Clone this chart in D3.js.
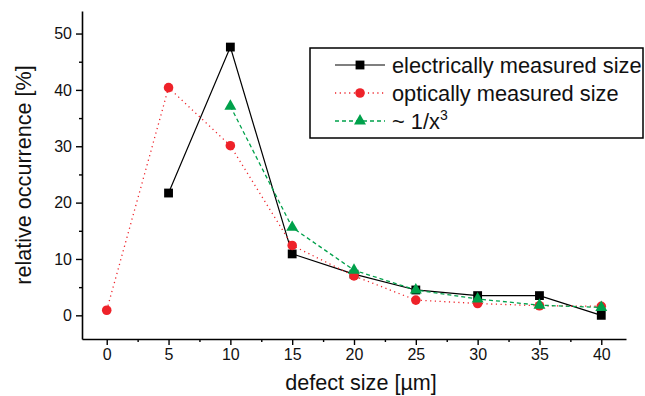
<!DOCTYPE html>
<html>
<head>
<meta charset="utf-8">
<script src="https://cdn.jsdelivr.net/npm/d3@7"></script>
<style>
  html, body { margin: 0; padding: 0; background: #fff; }
  svg { display: block; font-family: "Liberation Sans", Arial, sans-serif; }
</style>
</head>
<body>
<svg id="chart" width="645" height="396"></svg>
<script>
// ---- data ----
const electricalSizes = [5, 10, 15, 20, 25, 30, 35, 40];
const electricalValues = [21.7, 47.6, 10.9, 7.3, 4.5, 3.5, 3.5, 0];
const opticalSizes = [0, 5, 10, 15, 20, 25, 30, 35, 40];
const opticalValues = [0.9, 40.4, 30.1, 12.4, 7.0, 2.7, 2.1, 1.7, 1.6];
const cubicSizes = [10, 15, 20, 25, 30, 35, 40];
const cubicValues = [37.1, 15.6, 8.0, 4.5, 2.9, 1.8, 1.4];
const xTicks = [0, 5, 10, 15, 20, 25, 30, 35, 40];
const xMinorTicks = [2.5, 7.5, 12.5, 17.5, 22.5, 27.5, 32.5, 37.5];
const yTicks = [0, 10, 20, 30, 40, 50];
const yMinorTicks = [5, 15, 25, 35, 45];
const seriesNames = ["electrically measured size", "optically measured size", "~ 1/x"];

const svg = d3.select("#chart");
const x = d3.scaleLinear().domain([-2, 42]).range([82, 626]);
const y = d3.scaleLinear().domain([-4.2, 54]).range([339, 11]);

// axes
svg.append("g").attr("transform", "translate(0,339)")
  .call(d3.axisBottom(x).tickValues(xTicks).tickSize(6).tickSizeOuter(0).tickPadding(4));
svg.append("g").attr("transform", "translate(0,339)")
  .call(d3.axisBottom(x).tickValues(xMinorTicks).tickSize(3).tickSizeOuter(0).tickFormat(""))
  .select(".domain").remove();
svg.append("g").attr("transform", "translate(82,0)")
  .call(d3.axisLeft(y).tickValues(yTicks).tickSize(6).tickSizeOuter(0).tickPadding(4));
svg.append("g").attr("transform", "translate(82,0)")
  .call(d3.axisLeft(y).tickValues(yMinorTicks).tickSize(3).tickSizeOuter(0).tickFormat(""))
  .select(".domain").remove();

svg.selectAll(".domain").attr("stroke", "#000").attr("stroke-width", 1.6);
svg.selectAll(".tick line").attr("stroke", "#000").attr("stroke-width", 1.4);
svg.selectAll(".tick text").attr("font-size", 16).attr("fill", "#111")
  .attr("font-family", "Liberation Sans, Arial, sans-serif");

// titles
svg.append("text").attr("x", 361).attr("y", 390).attr("text-anchor", "middle")
  .attr("font-size", 21.6).attr("fill", "#111").text("defect size [µm]");
svg.append("text").attr("transform", "translate(31,175) rotate(-90)").attr("text-anchor", "middle")
  .attr("font-size", 21.6).attr("fill", "#111").text("relative occurrence [%]");

const red = "#ee2229", green = "#00a14b";
const series = [
  { xs: electricalSizes, ys: electricalValues, color: "#000", width: 1.2, dash: null, marker: "square" },
  { xs: opticalSizes, ys: opticalValues, color: red, width: 1.3, dash: "1.2,3.5", marker: "circle" },
  { xs: cubicSizes, ys: cubicValues, color: green, width: 1.3, dash: "4,3", marker: "triangle" }
];
const sym = {
  square: d3.symbol().type(d3.symbolSquare).size(78),
  circle: d3.symbol().type(d3.symbolCircle).size(72),
  triangle: d3.symbol().type(d3.symbolTriangle).size(62)
};
const line = d3.line();

series.forEach(s => {
  const pts = s.xs.map((v, i) => [x(v), y(s.ys[i])]);
  svg.append("path").attr("d", line(pts)).attr("fill", "none")
    .attr("stroke", s.color).attr("stroke-width", s.width)
    .attr("stroke-dasharray", s.dash);
  svg.append("g").selectAll("path").data(pts).join("path")
    .attr("transform", d => `translate(${d[0]},${d[1]})`)
    .attr("d", sym[s.marker]()).attr("fill", s.color);
});

// legend
svg.append("rect").attr("x", 310).attr("y", 48).attr("width", 333).attr("height", 90)
  .attr("fill", "#fff").attr("stroke", "#000").attr("stroke-width", 1.5);
const rowsY = [65, 93, 121];
series.forEach((s, i) => {
  const cy = rowsY[i];
  svg.append("line").attr("x1", 335).attr("x2", 385).attr("y1", cy).attr("y2", cy)
    .attr("stroke", s.color).attr("stroke-width", s.width).attr("stroke-dasharray", s.dash);
  svg.append("path").attr("transform", `translate(360,${cy})`)
    .attr("d", sym[s.marker]()).attr("fill", s.color);
  const t = svg.append("text").attr("x", 392).attr("y", cy + 8).attr("font-size", 21.8).attr("fill", "#111")
    .text(seriesNames[i]);
  if (i === 2) {
    t.append("tspan").attr("font-size", 14).attr("dy", -9).text("3");
  }
});
</script>
</body>
</html>
